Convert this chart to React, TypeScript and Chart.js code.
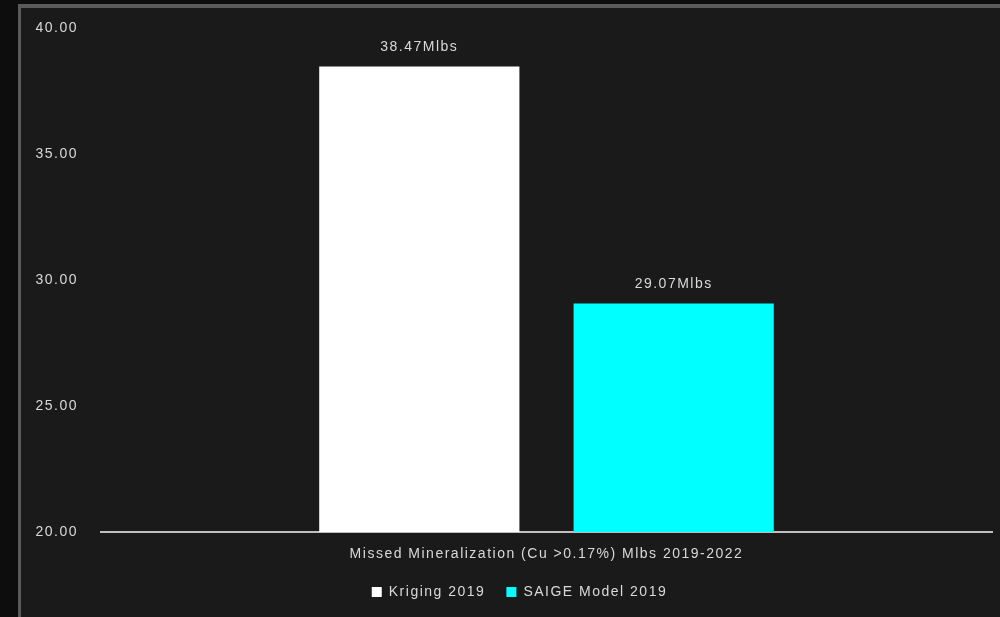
import React, { useEffect, useRef } from "react";
import { Chart, registerables } from "chart.js";

Chart.register(...registerables);

const categories = ["Missed Mineralization (Cu >0.17%) Mlbs 2019-2022"];
const seriesNames = ["Kriging 2019", "SAIGE Model 2019"];
const krigingValues = [38.47];
const saigeValues = [29.07];
const valueLabels = [["38.47Mlbs"], ["29.07Mlbs"]];
const yTicks = [20, 25, 30, 35, 40];

const TEXT = "#d9d9d9";
const FONT = "'Liberation Sans', Arial, sans-serif";
const SPACING = "1.5px";

const spacingPlugin = {
  id: "letterSpacing",
  beforeInit(chart: any) {
    chart.ctx.letterSpacing = SPACING;
  },
  beforeUpdate(chart: any) {
    chart.ctx.letterSpacing = SPACING;
  },
  beforeLayout(chart: any) {
    chart.ctx.letterSpacing = SPACING;
  },
  afterLayout(chart: any) {
    // centre the legend under the framed panel
    if (chart.legend) {
      chart.legend.left += 8.5;
      chart.legend.right += 8.5;
    }
  },
  beforeDraw(chart: any) {
    chart.ctx.letterSpacing = SPACING;
  },
};

const dataLabelPlugin = {
  id: "dataLabels",
  afterDatasetsDraw(chart: any) {
    const ctx = chart.ctx;
    ctx.save();
    ctx.letterSpacing = SPACING;
    ctx.fillStyle = TEXT;
    ctx.font = `14px ${FONT}`;
    ctx.textAlign = "center";
    ctx.textBaseline = "middle";
    chart.data.datasets.forEach((ds: any, i: number) => {
      const meta = chart.getDatasetMeta(i);
      meta.data.forEach((bar: any, j: number) => {
        ctx.fillText(valueLabels[i][j], bar.x, bar.y - 19);
      });
    });
    ctx.restore();
  },
};

export default function App() {
  const ref = useRef<HTMLCanvasElement>(null);
  useEffect(() => {
    if (!ref.current) return;
    const chart = new Chart(ref.current, {
      type: "bar",
      data: {
        labels: categories,
        datasets: [
          {
            label: seriesNames[0],
            data: krigingValues,
            backgroundColor: "#ffffff",
            borderWidth: 0,
            categoryPercentage: 0.571,
            barPercentage: 0.787,
          },
          {
            label: seriesNames[1],
            data: saigeValues,
            backgroundColor: "#00ffff",
            borderWidth: 0,
            categoryPercentage: 0.571,
            barPercentage: 0.787,
          },
        ],
      },
      options: {
        animation: false,
        responsive: false,
        maintainAspectRatio: false,
        layout: { padding: { top: 28, right: 8, bottom: 8, left: 30 } },
        plugins: {
          legend: {
            position: "bottom",
            labels: {
              color: TEXT,
              font: { family: FONT, size: 14 },
              boxWidth: 10,
              boxHeight: 10,
              padding: 21,
            },
          },
          tooltip: { enabled: false },
        },
        scales: {
          x: {
            grid: { display: false, drawTicks: false },
            border: { display: true, color: "#bfbfbf", width: 2 },
            ticks: { color: TEXT, font: { family: FONT, size: 14 }, padding: 14 },
            afterFit(scale: any) {
              scale.height = 32;
            },
          },
          y: {
            min: 20,
            max: 40,
            grid: { display: false, drawTicks: false },
            border: { display: false },
            afterBuildTicks(scale: any) {
              scale.ticks = yTicks.map((v) => ({ value: v }));
            },
            ticks: {
              color: TEXT,
              font: { family: FONT, size: 14 },
              padding: 23,
              callback: (v: any) => Number(v).toFixed(2),
            },
            afterFit(scale: any) {
              scale.width = 71;
              scale.paddingTop = 9;
              scale.paddingBottom = 9;
            },
          },
        },
      },
      plugins: [spacingPlugin, dataLabelPlugin],
    } as any);
    return () => chart.destroy();
  }, []);

  return (
    <div
      style={{
        position: "fixed",
        left: 0,
        top: 0,
        width: 1000,
        height: 617,
        background: "#0d0d0d",
        overflow: "hidden",
      }}
    >
      <div
        style={{
          position: "absolute",
          left: 18,
          top: 4,
          width: 1000,
          height: 640,
          background: "#1a1a1a",
          borderTop: "4px solid #5a5a5a",
          borderLeft: "3px solid #5a5a5a",
        }}
      />
      <canvas
        ref={ref}
        width={1000}
        height={617}
        style={{ position: "absolute", left: 0, top: 0, width: 1000, height: 617 }}
      />
    </div>
  );
}
